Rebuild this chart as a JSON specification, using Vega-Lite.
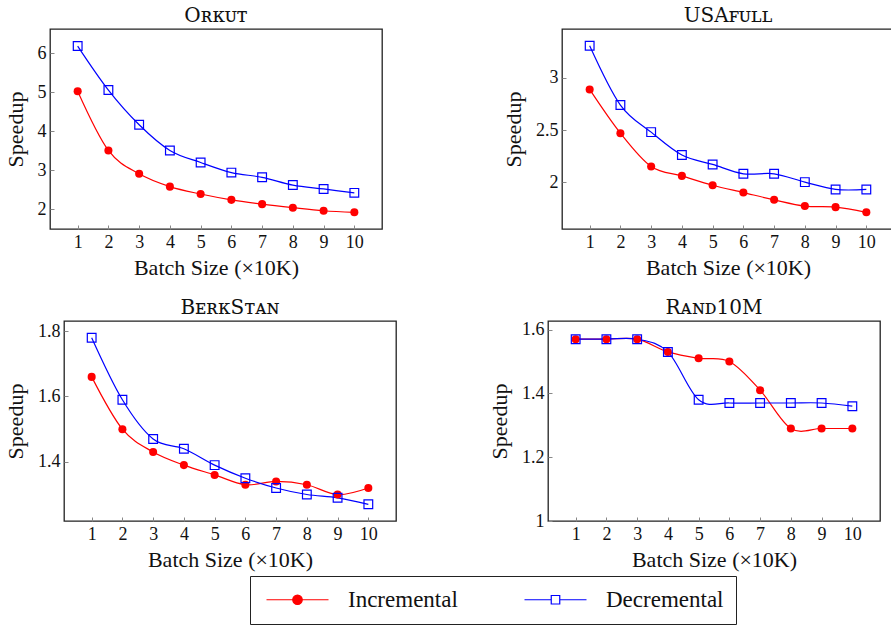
{
  "$schema": "https://vega.github.io/schema/vega-lite/v6.json",
  "background": "white",
  "padding": {"left": 2, "top": 5, "right": 0, "bottom": 0},
  "datasets": {
    "speedup": [
      {"graph": "Orkut", "series": "Incremental", "batch": 1, "speedup": 5.03},
      {"graph": "Orkut", "series": "Incremental", "batch": 2, "speedup": 3.51},
      {"graph": "Orkut", "series": "Incremental", "batch": 3, "speedup": 2.91},
      {"graph": "Orkut", "series": "Incremental", "batch": 4, "speedup": 2.58},
      {"graph": "Orkut", "series": "Incremental", "batch": 5, "speedup": 2.39},
      {"graph": "Orkut", "series": "Incremental", "batch": 6, "speedup": 2.24},
      {"graph": "Orkut", "series": "Incremental", "batch": 7, "speedup": 2.13},
      {"graph": "Orkut", "series": "Incremental", "batch": 8, "speedup": 2.04},
      {"graph": "Orkut", "series": "Incremental", "batch": 9, "speedup": 1.96},
      {"graph": "Orkut", "series": "Incremental", "batch": 10, "speedup": 1.92},
      {"graph": "Orkut", "series": "Decremental", "batch": 1, "speedup": 6.19},
      {"graph": "Orkut", "series": "Decremental", "batch": 2, "speedup": 5.06},
      {"graph": "Orkut", "series": "Decremental", "batch": 3, "speedup": 4.17},
      {"graph": "Orkut", "series": "Decremental", "batch": 4, "speedup": 3.51},
      {"graph": "Orkut", "series": "Decremental", "batch": 5, "speedup": 3.2},
      {"graph": "Orkut", "series": "Decremental", "batch": 6, "speedup": 2.94},
      {"graph": "Orkut", "series": "Decremental", "batch": 7, "speedup": 2.82},
      {"graph": "Orkut", "series": "Decremental", "batch": 8, "speedup": 2.62},
      {"graph": "Orkut", "series": "Decremental", "batch": 9, "speedup": 2.52},
      {"graph": "Orkut", "series": "Decremental", "batch": 10, "speedup": 2.42},
      {"graph": "USAfull", "series": "Incremental", "batch": 1, "speedup": 2.89},
      {"graph": "USAfull", "series": "Incremental", "batch": 2, "speedup": 2.47},
      {"graph": "USAfull", "series": "Incremental", "batch": 3, "speedup": 2.15},
      {"graph": "USAfull", "series": "Incremental", "batch": 4, "speedup": 2.06},
      {"graph": "USAfull", "series": "Incremental", "batch": 5, "speedup": 1.97},
      {"graph": "USAfull", "series": "Incremental", "batch": 6, "speedup": 1.9},
      {"graph": "USAfull", "series": "Incremental", "batch": 7, "speedup": 1.83},
      {"graph": "USAfull", "series": "Incremental", "batch": 8, "speedup": 1.77},
      {"graph": "USAfull", "series": "Incremental", "batch": 9, "speedup": 1.76},
      {"graph": "USAfull", "series": "Incremental", "batch": 10, "speedup": 1.71},
      {"graph": "USAfull", "series": "Decremental", "batch": 1, "speedup": 3.31},
      {"graph": "USAfull", "series": "Decremental", "batch": 2, "speedup": 2.74},
      {"graph": "USAfull", "series": "Decremental", "batch": 3, "speedup": 2.48},
      {"graph": "USAfull", "series": "Decremental", "batch": 4, "speedup": 2.26},
      {"graph": "USAfull", "series": "Decremental", "batch": 5, "speedup": 2.17},
      {"graph": "USAfull", "series": "Decremental", "batch": 6, "speedup": 2.08},
      {"graph": "USAfull", "series": "Decremental", "batch": 7, "speedup": 2.08},
      {"graph": "USAfull", "series": "Decremental", "batch": 8, "speedup": 2.0},
      {"graph": "USAfull", "series": "Decremental", "batch": 9, "speedup": 1.93},
      {"graph": "USAfull", "series": "Decremental", "batch": 10, "speedup": 1.93},
      {"graph": "BerkStan", "series": "Incremental", "batch": 1, "speedup": 1.66},
      {"graph": "BerkStan", "series": "Incremental", "batch": 2, "speedup": 1.5},
      {"graph": "BerkStan", "series": "Incremental", "batch": 3, "speedup": 1.43},
      {"graph": "BerkStan", "series": "Incremental", "batch": 4, "speedup": 1.39},
      {"graph": "BerkStan", "series": "Incremental", "batch": 5, "speedup": 1.36},
      {"graph": "BerkStan", "series": "Incremental", "batch": 6, "speedup": 1.33},
      {"graph": "BerkStan", "series": "Incremental", "batch": 7, "speedup": 1.34},
      {"graph": "BerkStan", "series": "Incremental", "batch": 8, "speedup": 1.33},
      {"graph": "BerkStan", "series": "Incremental", "batch": 9, "speedup": 1.3},
      {"graph": "BerkStan", "series": "Incremental", "batch": 10, "speedup": 1.32},
      {"graph": "BerkStan", "series": "Decremental", "batch": 1, "speedup": 1.78},
      {"graph": "BerkStan", "series": "Decremental", "batch": 2, "speedup": 1.59},
      {"graph": "BerkStan", "series": "Decremental", "batch": 3, "speedup": 1.47},
      {"graph": "BerkStan", "series": "Decremental", "batch": 4, "speedup": 1.44},
      {"graph": "BerkStan", "series": "Decremental", "batch": 5, "speedup": 1.39},
      {"graph": "BerkStan", "series": "Decremental", "batch": 6, "speedup": 1.35},
      {"graph": "BerkStan", "series": "Decremental", "batch": 7, "speedup": 1.32},
      {"graph": "BerkStan", "series": "Decremental", "batch": 8, "speedup": 1.3},
      {"graph": "BerkStan", "series": "Decremental", "batch": 9, "speedup": 1.29},
      {"graph": "BerkStan", "series": "Decremental", "batch": 10, "speedup": 1.27},
      {"graph": "Rand10M", "series": "Incremental", "batch": 1, "speedup": 1.57},
      {"graph": "Rand10M", "series": "Incremental", "batch": 2, "speedup": 1.57},
      {"graph": "Rand10M", "series": "Incremental", "batch": 3, "speedup": 1.57},
      {"graph": "Rand10M", "series": "Incremental", "batch": 4, "speedup": 1.53},
      {"graph": "Rand10M", "series": "Incremental", "batch": 5, "speedup": 1.51},
      {"graph": "Rand10M", "series": "Incremental", "batch": 6, "speedup": 1.5},
      {"graph": "Rand10M", "series": "Incremental", "batch": 7, "speedup": 1.41},
      {"graph": "Rand10M", "series": "Incremental", "batch": 8, "speedup": 1.29},
      {"graph": "Rand10M", "series": "Incremental", "batch": 9, "speedup": 1.29},
      {"graph": "Rand10M", "series": "Incremental", "batch": 10, "speedup": 1.29},
      {"graph": "Rand10M", "series": "Decremental", "batch": 1, "speedup": 1.57},
      {"graph": "Rand10M", "series": "Decremental", "batch": 2, "speedup": 1.57},
      {"graph": "Rand10M", "series": "Decremental", "batch": 3, "speedup": 1.57},
      {"graph": "Rand10M", "series": "Decremental", "batch": 4, "speedup": 1.53},
      {"graph": "Rand10M", "series": "Decremental", "batch": 5, "speedup": 1.38},
      {"graph": "Rand10M", "series": "Decremental", "batch": 6, "speedup": 1.37},
      {"graph": "Rand10M", "series": "Decremental", "batch": 7, "speedup": 1.37},
      {"graph": "Rand10M", "series": "Decremental", "batch": 8, "speedup": 1.37},
      {"graph": "Rand10M", "series": "Decremental", "batch": 9, "speedup": 1.37},
      {"graph": "Rand10M", "series": "Decremental", "batch": 10, "speedup": 1.36}
    ]
  },
  "data": {"name": "speedup"},
  "align": "none",
  "spacing": 17,
  "vconcat": [
    {
      "spacing": 0,
      "hconcat": [
        {"width": 1, "height": 1, "view": {"stroke": null}, "data": {"values": []}, "mark": {"type": "point", "opacity": 0}},
        {
          "spacing": 118,
          "hconcat": [
            {
              "title": "Oʀᴋᴜᴛ",
              "width": 332, "height": 200,
              "transform": [{"filter": "datum.graph === 'Orkut'"}],
              "encoding": {
                "x": {"field": "batch", "type": "quantitative", "scale": {"domain": [0.1, 10.9], "nice": false, "zero": false},
                      "axis": {"values": [1, 2, 3, 4, 5, 6, 7, 8, 9, 10], "title": "Batch Size (×10K)"}},
                "y": {"field": "speedup", "type": "quantitative", "scale": {"domain": [1.492, 6.628], "nice": false, "zero": false},
                      "axis": {"values": [2, 3, 4, 5, 6], "format": "~g", "title": "Speedup"}}
              },
              "layer": [
                {"mark": {"type": "line", "interpolate": "cardinal", "strokeWidth": 1.2},
                 "encoding": {"color": {"field": "series", "type": "nominal", "scale": {"domain": ["Incremental", "Decremental"], "range": ["#ff0000", "#0000ff"]},
                   "legend": {"encode": {"symbols": {"update": {
                     "shape": {"signal": "datum.value === 'Incremental' ? 'M-6.2,0L6.2,0M0.95,0A0.95,0.95,0,1,1,-0.95,0A0.95,0.95,0,1,1,0.95,0Z' : 'M-6.2,0L-0.85,0M0.85,0L6.2,0M-0.85,-0.85L0.85,-0.85L0.85,0.85L-0.85,0.85Z'"},
                     "fill": {"signal": "datum.value === 'Incremental' ? '#ff0000' : '#ffffff'"},
                     "stroke": {"signal": "datum.value === 'Incremental' ? '#ff0000' : '#0000ff'"},
                     "strokeWidth": {"value": 1.2}, "size": {"value": 100}, "opacity": {"value": 1}}}}}}}},
                {"transform": [{"filter": "datum.series === 'Incremental'"}],
                 "mark": {"type": "point", "shape": "circle", "filled": true, "color": "#ff0000", "size": 65, "opacity": 1}},
                {"transform": [{"filter": "datum.series === 'Decremental'"}],
                 "mark": {"type": "point", "shape": "square", "filled": false, "color": "#0000ff", "size": 76, "strokeWidth": 1.2, "opacity": 1}}
              ]
            },
            {
              "title": "USAꜰᴜʟʟ",
              "width": 332, "height": 200,
              "transform": [{"filter": "datum.graph === 'USAfull'"}],
              "encoding": {
                "x": {"field": "batch", "type": "quantitative", "scale": {"domain": [0.1, 10.9], "nice": false, "zero": false},
                      "axis": {"values": [1, 2, 3, 4, 5, 6, 7, 8, 9, 10], "title": "Batch Size (×10K)"}},
                "y": {"field": "speedup", "type": "quantitative", "scale": {"domain": [1.55, 3.47], "nice": false, "zero": false},
                      "axis": {"values": [2, 2.5, 3], "format": "~g", "title": "Speedup"}}
              },
              "layer": [
                {"mark": {"type": "line", "interpolate": "cardinal", "strokeWidth": 1.2},
                 "encoding": {"color": {"field": "series", "type": "nominal", "scale": {"domain": ["Incremental", "Decremental"], "range": ["#ff0000", "#0000ff"]},
                   "legend": {"encode": {"symbols": {"update": {
                     "shape": {"signal": "datum.value === 'Incremental' ? 'M-6.2,0L6.2,0M0.95,0A0.95,0.95,0,1,1,-0.95,0A0.95,0.95,0,1,1,0.95,0Z' : 'M-6.2,0L-0.85,0M0.85,0L6.2,0M-0.85,-0.85L0.85,-0.85L0.85,0.85L-0.85,0.85Z'"},
                     "fill": {"signal": "datum.value === 'Incremental' ? '#ff0000' : '#ffffff'"},
                     "stroke": {"signal": "datum.value === 'Incremental' ? '#ff0000' : '#0000ff'"},
                     "strokeWidth": {"value": 1.2}, "size": {"value": 100}, "opacity": {"value": 1}}}}}}}},
                {"transform": [{"filter": "datum.series === 'Incremental'"}],
                 "mark": {"type": "point", "shape": "circle", "filled": true, "color": "#ff0000", "size": 65, "opacity": 1}},
                {"transform": [{"filter": "datum.series === 'Decremental'"}],
                 "mark": {"type": "point", "shape": "square", "filled": false, "color": "#0000ff", "size": 76, "strokeWidth": 1.2, "opacity": 1}}
              ]
            }
          ]
        }
      ]
    },
    {
      "spacing": 0,
      "hconcat": [
        {"width": 1, "height": 1, "view": {"stroke": null}, "data": {"values": []}, "mark": {"type": "point", "opacity": 0}},
        {
          "spacing": 90,
          "hconcat": [
            {
              "title": "BᴇʀᴋSᴛᴀɴ",
              "width": 332, "height": 200,
              "transform": [{"filter": "datum.graph === 'BerkStan'"}],
              "encoding": {
                "x": {"field": "batch", "type": "quantitative", "scale": {"domain": [0.1, 10.9], "nice": false, "zero": false},
                      "axis": {"values": [1, 2, 3, 4, 5, 6, 7, 8, 9, 10], "title": "Batch Size (×10K)"}},
                "y": {"field": "speedup", "type": "quantitative", "scale": {"domain": [1.219, 1.831], "nice": false, "zero": false},
                      "axis": {"values": [1.4, 1.6, 1.8], "format": "~g", "title": "Speedup"}}
              },
              "layer": [
                {"mark": {"type": "line", "interpolate": "cardinal", "strokeWidth": 1.2},
                 "encoding": {"color": {"field": "series", "type": "nominal", "scale": {"domain": ["Incremental", "Decremental"], "range": ["#ff0000", "#0000ff"]},
                   "legend": {"encode": {"symbols": {"update": {
                     "shape": {"signal": "datum.value === 'Incremental' ? 'M-6.2,0L6.2,0M0.95,0A0.95,0.95,0,1,1,-0.95,0A0.95,0.95,0,1,1,0.95,0Z' : 'M-6.2,0L-0.85,0M0.85,0L6.2,0M-0.85,-0.85L0.85,-0.85L0.85,0.85L-0.85,0.85Z'"},
                     "fill": {"signal": "datum.value === 'Incremental' ? '#ff0000' : '#ffffff'"},
                     "stroke": {"signal": "datum.value === 'Incremental' ? '#ff0000' : '#0000ff'"},
                     "strokeWidth": {"value": 1.2}, "size": {"value": 100}, "opacity": {"value": 1}}}}}}}},
                {"transform": [{"filter": "datum.series === 'Incremental'"}],
                 "mark": {"type": "point", "shape": "circle", "filled": true, "color": "#ff0000", "size": 65, "opacity": 1}},
                {"transform": [{"filter": "datum.series === 'Decremental'"}],
                 "mark": {"type": "point", "shape": "square", "filled": false, "color": "#0000ff", "size": 76, "strokeWidth": 1.2, "opacity": 1}}
              ]
            },
            {
              "title": "Rᴀɴᴅ10M",
              "width": 332, "height": 200,
              "transform": [{"filter": "datum.graph === 'Rand10M'"}],
              "encoding": {
                "x": {"field": "batch", "type": "quantitative", "scale": {"domain": [0.1, 10.9], "nice": false, "zero": false},
                      "axis": {"values": [1, 2, 3, 4, 5, 6, 7, 8, 9, 10], "title": "Batch Size (×10K)"}},
                "y": {"field": "speedup", "type": "quantitative", "scale": {"domain": [1, 1.627], "nice": false, "zero": false},
                      "axis": {"values": [1, 1.2, 1.4, 1.6], "format": "~g", "title": "Speedup"}}
              },
              "layer": [
                {"mark": {"type": "line", "interpolate": "cardinal", "strokeWidth": 1.2},
                 "encoding": {"color": {"field": "series", "type": "nominal", "scale": {"domain": ["Incremental", "Decremental"], "range": ["#ff0000", "#0000ff"]},
                   "legend": {"encode": {"symbols": {"update": {
                     "shape": {"signal": "datum.value === 'Incremental' ? 'M-6.2,0L6.2,0M0.95,0A0.95,0.95,0,1,1,-0.95,0A0.95,0.95,0,1,1,0.95,0Z' : 'M-6.2,0L-0.85,0M0.85,0L6.2,0M-0.85,-0.85L0.85,-0.85L0.85,0.85L-0.85,0.85Z'"},
                     "fill": {"signal": "datum.value === 'Incremental' ? '#ff0000' : '#ffffff'"},
                     "stroke": {"signal": "datum.value === 'Incremental' ? '#ff0000' : '#0000ff'"},
                     "strokeWidth": {"value": 1.2}, "size": {"value": 100}, "opacity": {"value": 1}}}}}}}},
                {"transform": [{"filter": "datum.series === 'Incremental'"}],
                 "mark": {"type": "point", "shape": "circle", "filled": true, "color": "#ff0000", "size": 65, "opacity": 1}},
                {"transform": [{"filter": "datum.series === 'Decremental'"}],
                 "mark": {"type": "point", "shape": "square", "filled": false, "color": "#0000ff", "size": 76, "strokeWidth": 1.2, "opacity": 1}}
              ]
            }
          ]
        }
      ]
    }
  ],
  "config": {
    "font": "Liberation Serif",
    "view": {"stroke": "#222222", "strokeWidth": 1.3},
    "title": {"fontSize": 20, "fontWeight": "normal", "color": "#111111", "offset": 3, "font": "DejaVu Serif"},
    "axis": {
      "grid": false, "domain": false,
      "tickColor": "#888888", "tickSize": -4, "tickWidth": 1,
      "labelFontSize": 18, "labelColor": "#111111", "labelPadding": 8,
      "titleFontSize": 22, "titleFontWeight": "normal", "titleColor": "#111111"
    },
    "axisX": {"titlePadding": 6},
    "axisY": {"titlePadding": 10},
    "legend": {
      "orient": "none", "legendX": 248, "legendY": 547,
      "direction": "horizontal", "title": null,
      "strokeColor": "#222222", "padding": 12,
      "labelFontSize": 23, "labelColor": "#111111", "labelOffset": 39,
      "symbolSize": 100, "symbolOffset": 24, "columnPadding": 62
    }
  }
}
